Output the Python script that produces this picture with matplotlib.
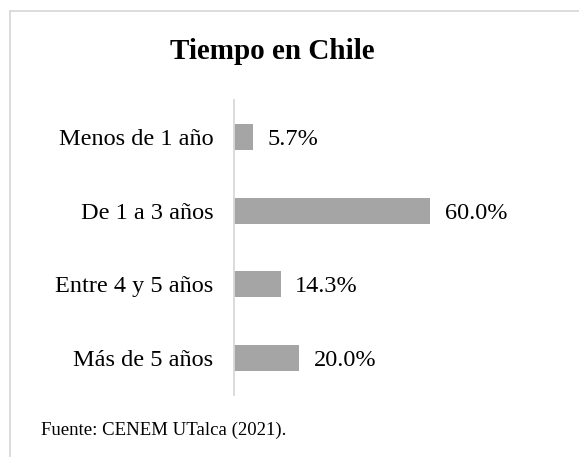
import matplotlib.pyplot as plt
from matplotlib.lines import Line2D

categorias = ['Menos de 1 año', 'De 1 a 3 años', 'Entre 4 y 5 años', 'Más de 5 años']
valores = [5.7, 60.0, 14.3, 20.0]
etiquetas = ['5.7%', '60.0%', '14.3%', '20.0%']

plt.rcParams['font.family'] = ['Liberation Serif', 'DejaVu Serif']

W, H = 579, 457
fig = plt.figure(figsize=(W / 100, H / 100), dpi=100)

# marco del grafico (solo se ve arriba e izquierda)
borde = '#d9d9d9'
fig.lines.append(Line2D([10 / W, 1], [1 - 10.5 / H, 1 - 10.5 / H], transform=fig.transFigure,
                        color=borde, linewidth=1.3))
fig.lines.append(Line2D([10 / W, 10 / W], [0, 1 - 10.5 / H], transform=fig.transFigure,
                        color=borde, linewidth=1.3))

ax = fig.add_axes([234 / W, 1 - 395 / H, (561 - 234) / W, 295 / H])
pos = list(range(len(categorias)))
ax.barh(pos, valores, height=0.35, color='#a5a5a5')
ax.set_ylim(3.5, -0.5)
ax.set_xlim(0, 100)

for p, v, t in zip(pos, valores, etiquetas):
    ax.text(v + 4.4, p, t, va='center_baseline', ha='left', fontsize=17.5)

ax.set_yticks(pos)
ax.set_yticklabels(categorias, fontsize=17.5)
ax.tick_params(axis='y', length=0, pad=15)
ax.set_xticks([])
for s in ['top', 'right', 'bottom']:
    ax.spines[s].set_visible(False)
ax.spines['left'].set_color(borde)
ax.spines['left'].set_linewidth(1.3)

fig.text(272.5 / W, 1 - 59 / H, 'Tiempo en Chile', ha='center', va='baseline',
         fontsize=21, fontweight='bold')
fig.text(41 / W, 1 - 435 / H, 'Fuente: CENEM UTalca (2021).', ha='left', va='baseline',
         fontsize=13.5)

fig.savefig('out.png', dpi=100)
